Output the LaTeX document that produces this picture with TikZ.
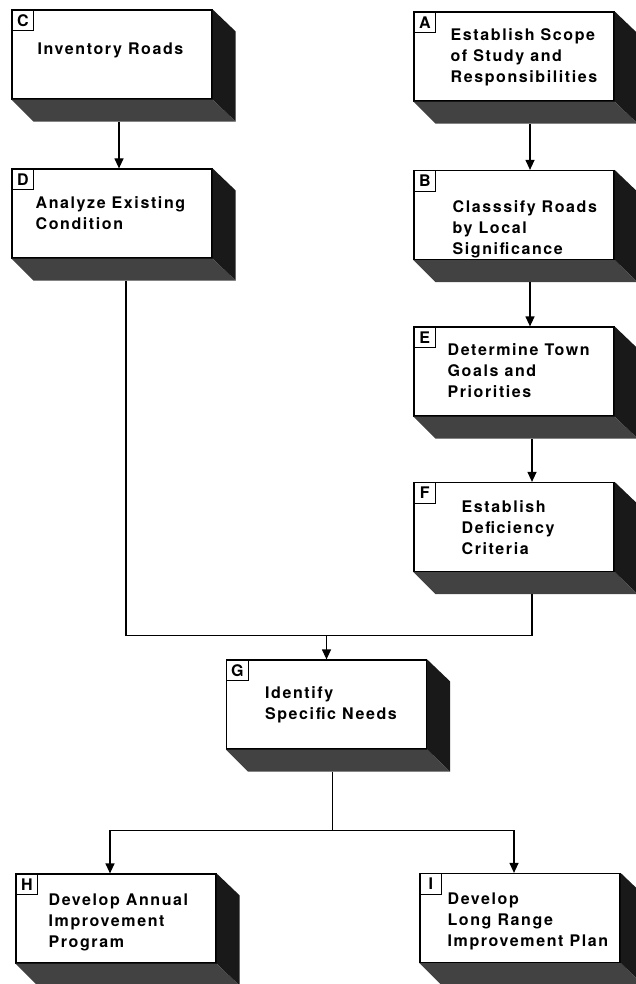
\documentclass[tikz,border=0pt]{standalone}
\usepackage{fontspec}
\newfontfamily\flowfont{TeX Gyre Heros}[LetterSpace=10]
\usetikzlibrary{arrows.meta}

\begin{document}
\begin{tikzpicture}[x=1pt,y=-1pt,
    every node/.style={font=\flowfont\bfseries\fontsize{16}{21}\selectfont},
    stepbox/.style={draw,line width=1.2pt,fill=white,minimum width=200pt,minimum height=89pt,inner sep=0pt},
    tagbox/.style={draw,line width=0.8pt,minimum width=22pt,minimum height=21pt,inner sep=0pt,anchor=north west},
    steptext/.style={anchor=north west,align=left,inner sep=0pt},
    link/.style={line width=1.2pt},
    arr/.style={line width=1.2pt,-{Triangle[width=9pt,length=10pt]}}]
  \useasboundingbox (0,0) rectangle (636,984);

  % left column: C, D
  \node[stepbox] (C) at (112,54.5) {};
  \node[stepbox] (D) at (112,213.5) {};

  % right column: A, B, E, F
  \node[stepbox] (A) at (514,56.5) {};
  \node[stepbox] (B) at (514,215) {};
  \node[stepbox] (E) at (514,371.5) {};
  \node[stepbox] (F) at (514,527) {};

  % G in the middle, H and I at the bottom
  \node[stepbox] (G) at (326.5,704.5) {};
  \node[stepbox] (H) at (116,918.5) {};
  \node[stepbox] (I) at (520,918) {};

  % 3d shadows and letter tags
  \foreach \b in {C,D,A,B,E,F,G,H,I} {
    \fill[black!90] (\b.north east) -- ++(23,22) -- ([shift={(23pt,-22pt)}]\b.south east) -- (\b.south east) -- cycle;
    \fill[black!74] (\b.south west) -- (\b.south east) -- ++(23,22) -- ([shift={(22pt,-22pt)}]\b.south west) -- cycle;
    \node[tagbox] (tag\b) at (\b.north west) {\b};
  }

  % box texts
  \node[steptext] (Ctx) at ([shift={(26pt,-33pt)}]C.north west) {Inventory Roads};
  \node[steptext] (Dtx) at ([shift={(24pt,-28pt)}]D.north west) {Analyze Existing\\Condition};
  \node[steptext] (Atx) at ([shift={(37pt,-17pt)}]A.north west) {Establish Scope\\of Study and\\Responsibilities};
  \node[steptext] (Btx) at ([shift={(39pt,-30pt)}]B.north west) {Classsify Roads\\by Local\\Significance};
  \node[steptext] (Etx) at ([shift={(34pt,-17pt)}]E.north west) {Determine Town\\Goals and\\Priorities};
  \node[steptext] (Ftx) at ([shift={(48pt,-18pt)}]F.north west) {Establish\\Deficiency\\Criteria};
  \node[steptext] (Gtx) at ([shift={(39pt,-27pt)}]G.north west) {Identify\\Specific Needs};
  \node[steptext] (Htx) at ([shift={(33pt,-20pt)}]H.north west) {Develop Annual\\Improvement\\Program};
  \node[steptext] (Itx) at ([shift={(28pt,-20pt)}]I.north west) {Develop\\Long Range\\Improvement Plan};

  % straight arrows down the columns
  \draw[arr] ([shift={(7pt,-22pt)}]C.south) -- ([xshift=7pt]D.north);
  \draw[arr] ([shift={(16pt,-22pt)}]A.south) -- ([xshift=16pt]B.north);
  \draw[arr] ([shift={(16pt,-22pt)}]B.south) -- ([xshift=16pt]E.north);
  \draw[arr] ([shift={(18pt,-22pt)}]E.south) -- ([xshift=18pt]F.north);

  % D and F join into G
  \coordinate (join) at ([yshift=24pt]G.north);
  \draw[link] ([shift={(14pt,-22pt)}]D.south) |- (join);
  \draw[link] ([shift={(18pt,-22pt)}]F.south) |- (join);
  \draw[arr] (join) -- (G.north);

  % G splits into H and I
  \coordinate (split) at ([shift={(6pt,-81pt)}]G.south);
  \draw[link] ([shift={(6pt,-22pt)}]G.south) -- (split);
  \draw[arr] (split) -| ([xshift=-6pt]H.north);
  \draw[arr] (split) -| ([xshift=-6pt]I.north);
\end{tikzpicture}
\end{document}
